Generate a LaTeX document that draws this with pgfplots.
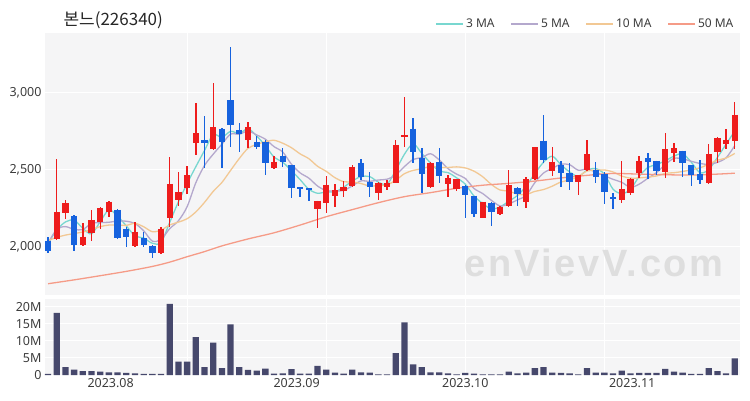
\documentclass[border=0pt]{standalone}
\usepackage{pgfplots}
\pgfplotsset{compat=1.18}
\usepackage{pgfplotstable}
\usepackage{fontspec}
\setmainfont{Noto Sans}
\newfontfamily\cjk{Noto Sans CJK KR}
\newfontfamily\wmfont[LetterSpace=7]{Liberation Sans Bold}

\definecolor{upc}{RGB}{238,28,28}
\definecolor{dnc}{RGB}{22,98,222}
\definecolor{panelbg}{RGB}{245,245,246}
\definecolor{volc}{RGB}{70,72,108}
\definecolor{maA}{RGB}{120,215,208}
\definecolor{maB}{RGB}{180,168,205}
\definecolor{maC}{RGB}{242,200,148}
\definecolor{maD}{RGB}{245,155,135}
\definecolor{txt}{RGB}{60,60,60}

% rising days (red)
\pgfplotstableread{
i o h l c
1 2048 2568 2045 2225
2 2220 2302 2177 2281
4 2011 2156 2005 2065
5 2086 2238 2039 2173
6 2162 2255 2112 2248
7 2227 2298 2194 2292
10 2004 2162 2000 2097
13 1961 2125 1955 2112
14 2188 2583 2130 2406
15 2302 2486 2264 2356
16 2382 2523 2341 2464
17 2670 2933 2594 2734
19 2631 3063 2625 2773
23 2691 2810 2637 2773
26 2508 2588 2501 2551
31 2242 2298 2119 2298
32 2285 2460 2220 2400
33 2328 2406 2255 2367
34 2363 2428 2324 2389
35 2393 2529 2389 2518
38 2346 2421 2302 2410
39 2389 2432 2367 2415
40 2415 2691 2410 2659
41 2713 2968 2644 2724
44 2384 2551 2378 2540
46 2406 2464 2320 2443
47 2372 2440 2363 2436
50 2184 2292 2184 2292
52 2212 2264 2205 2255
53 2264 2497 2255 2400
55 2292 2454 2248 2436
56 2436 2644 2432 2644
58 2490 2648 2458 2551
61 2421 2464 2334 2464
62 2496 2691 2492 2600
66 2302 2557 2285 2371
67 2345 2443 2334 2436
68 2479 2589 2443 2557
71 2486 2738 2443 2630
72 2604 2674 2550 2637
76 2410 2665 2406 2600
77 2615 2708 2544 2702
78 2665 2760 2630 2691
79 2686 2939 2630 2853
}\up

% falling days (blue)
\pgfplotstableread{
i o h l c
0 2039 2060 1961 1974
3 2199 2205 1974 2011
8 2238 2245 2050 2054
9 2112 2130 2000 2060
11 2054 2097 2000 2011
12 2004 2010 1924 1957
18 2691 2847 2508 2670
20 2760 2767 2508 2680
21 2950 3296 2648 2788
22 2756 2804 2616 2730
24 2680 2717 2631 2648
25 2680 2691 2464 2540
27 2588 2637 2518 2551
28 2529 2529 2313 2378
29 2385 2385 2320 2372
30 2378 2378 2298 2367
36 2540 2568 2432 2454
37 2421 2486 2324 2389
42 2765 2832 2544 2616
43 2572 2637 2346 2471
45 2551 2637 2410 2458
48 2393 2400 2184 2335
49 2330 2330 2194 2212
51 2285 2292 2134 2227
54 2378 2389 2264 2341
57 2687 2853 2544 2562
59 2529 2557 2388 2479
60 2479 2544 2367 2421
63 2496 2550 2414 2453
64 2470 2486 2276 2356
65 2319 2345 2242 2306
69 2576 2604 2436 2546
70 2557 2557 2464 2492
73 2622 2622 2453 2540
74 2529 2529 2393 2464
75 2470 2561 2406 2432
}\down

% moving averages: a = 3 MA, b = 5 MA, d = 10 MA
\pgfplotstableread{
i a b d
0 2022 2022 2040
1 2108 2112 2060
2 2160 2130 2075
3 2172 2112 2085
4 2119 2111 2095
5 2083 2151 2110
6 2162 2156 2130
7 2238 2158 2140
8 2198 2166 2140
9 2135 2165 2138
10 2070 2150 2151
11 2056 2103 2129
12 2022 2036 2097
13 2027 2047 2107
14 2158 2117 2141
15 2291 2168 2159
16 2409 2259 2181
17 2518 2414 2225
18 2623 2526 2287
19 2726 2599 2358
20 2708 2664 2416
21 2747 2729 2494
22 2733 2728 2571
23 2764 2749 2637
24 2717 2724 2662
25 2654 2696 2680
26 2580 2648 2689
27 2547 2613 2670
28 2493 2534 2641
29 2434 2478 2601
30 2372 2444 2570
31 2346 2393 2521
32 2355 2363 2488
33 2355 2361 2447
34 2385 2364 2421
35 2425 2394 2419
36 2454 2426 2409
37 2454 2423 2393
38 2418 2432 2396
39 2405 2437 2401
40 2495 2465 2430
41 2599 2519 2473
42 2666 2565 2494
43 2604 2577 2505
44 2542 2602 2520
45 2490 2562 2514
46 2480 2506 2513
47 2446 2470 2517
48 2405 2442 2510
49 2328 2377 2489
50 2280 2344 2453
51 2244 2300 2403
52 2258 2264 2367
53 2294 2277 2360
54 2332 2303 2340
55 2392 2332 2338
56 2474 2415 2358
57 2547 2477 2370
58 2586 2507 2392
59 2531 2534 2419
60 2484 2531 2432
61 2455 2495 2455
62 2495 2503 2490
63 2506 2483 2495
64 2470 2459 2497
65 2372 2436 2484
66 2344 2417 2457
67 2371 2384 2444
68 2455 2405 2445
69 2513 2443 2451
70 2532 2480 2458
71 2556 2532 2475
72 2586 2572 2479
73 2602 2569 2487
74 2547 2553 2498
75 2479 2539 2511
76 2499 2533 2534
77 2578 2546 2560
78 2664 2576 2574
79 2749 2654 2604
}\ma

\pgfplotstableread{
i m
0 1760
3 1785
6 1812
9 1840
12 1872
14 1900
16 1935
18 1968
20 2005
23 2050
26 2090
29 2140
32 2194
35 2240
38 2285
41 2324
44 2350
47 2378
50 2398
53 2410
56 2425
59 2445
62 2462
65 2474
68 2470
71 2466
74 2464
77 2470
79 2476
}\maL

% volume, millions
\pgfplotstableread{
i v
0 0.3
1 18.2
2 2.3
3 1.6
4 1.1
5 1.1
6 1.0
7 0.8
8 0.8
9 0.6
10 0.5
11 0.3
12 0.3
13 0.3
14 20.8
15 3.9
16 3.9
17 11.1
18 2.3
19 9.5
20 2.0
21 14.8
22 2.3
23 1.5
24 1.3
25 1.9
26 0.4
27 0.5
28 1.7
29 0.4
30 0.4
31 2.7
32 1.6
33 0.7
34 0.4
35 1.6
36 0.8
37 0.7
38 0.2
39 0.2
40 6.4
41 15.4
42 3.1
43 2.3
44 0.8
45 0.8
46 0.5
47 0.2
48 0.6
49 0.4
50 0.2
51 0.2
52 0.2
53 1.0
54 0.5
55 0.7
56 2.0
57 2.3
58 0.7
59 0.6
60 0.5
61 0.2
62 2.0
63 0.7
64 0.7
65 0.5
66 1.3
67 0.5
68 0.6
69 0.6
70 0.6
71 1.8
72 1.0
73 0.7
74 0.3
75 0.3
76 2.0
77 1.1
78 0.5
79 4.9
}\vol

\pgfplotsset{
  panel/.style={
    scale only axis, width=695pt,
    xmin=-0.35, xmax=79.6,
    axis background/.style={fill=panelbg},
    axis line style={draw=none},
    major tick length=0pt,
    grid style={white, line width=1pt},
    tick label style={font=\fontsize{12.5}{14}\selectfont, text=txt},
    /pgf/number format/assume math mode=true,
  },
  wick/.style={forget plot, draw=none, mark=none,
    error bars/.cd, y dir=both, y explicit, error mark=none,
    error bar style={draw=#1, line width=1.4pt}},
  body/.style={forget plot, draw=none, mark=none,
    error bars/.cd, y dir=minus, y explicit, error mark=none,
    error bar style={draw=#1, line width=6.3pt}},
}

\begin{document}
\begin{tikzpicture}
\path[use as bounding box] (0pt,0pt) rectangle (750pt,400pt);

\begin{axis}[panel, at={(45pt,105pt)}, anchor=south west, height=262pt,
  ymin=1687, ymax=3384, ytick={2000,2500,3000},
  yticklabel style={/pgf/number format/1000 sep={,}},
  xtick={16,32,48,64}, xticklabels={},
  xmajorgrids, ymajorgrids,
  legend columns=4,
  legend style={at={(0.998,1.034)}, anchor=east, draw=none, fill=none,
    font=\fontsize{12}{14}\selectfont, text=txt,
    /tikz/every even column/.append style={column sep=14pt}},
  legend image code/.code={\draw[#1, line width=1.5pt] (0pt,0pt) -- (27pt,0pt);},
]
\addplot[maA, line width=1.3pt, smooth] table[x=i, y=a] {\ma};
\addlegendentry{3 MA}
\addplot[maB, line width=1.3pt, smooth] table[x=i, y=b] {\ma};
\addlegendentry{5 MA}
\addplot[maC, line width=1.3pt, smooth] table[x=i, y=d] {\ma};
\addlegendentry{10 MA}
\addplot[maD, line width=1.3pt, smooth] table[x=i, y=m] {\maL};
\addlegendentry{50 MA}

\addplot[wick=upc] table[x=i, y=c,
  y error plus expr=\thisrow{h}-\thisrow{c},
  y error minus expr=\thisrow{c}-\thisrow{l}] {\up};
\addplot[body=upc] table[x=i, y=c,
  y error minus expr=\thisrow{c}-\thisrow{o}] {\up};
\addplot[wick=dnc] table[x=i, y=o,
  y error plus expr=\thisrow{h}-\thisrow{o},
  y error minus expr=\thisrow{o}-\thisrow{l}] {\down};
\addplot[body=dnc] table[x=i, y=o,
  y error minus expr=\thisrow{o}-\thisrow{c}] {\down};
\end{axis}

\node[font=\wmfont\fontsize{38}{38}\selectfont, text={rgb,255:red,222;green,222;blue,222}]
  at (594pt,137pt) {enVievV.com};

\begin{axis}[panel, at={(45pt,25pt)}, anchor=south west, height=76pt,
  ymin=0, ymax=22.25, ytick={0,5,10,15,20},
  yticklabels={0,5M,10M,15M,20M},
  ymajorgrids,
  xtick={7.2,28.6,48,67.2},
  xticklabels={2023.08,2023.09,2023.10,2023.11},
  extra x ticks={16,32,48,64}, extra x tick labels={},
  extra x tick style={xmajorgrids=true},
  ybar, bar width=6.3pt, bar shift=0pt,
]
\addplot[fill=volc, draw=none] table[x=i, y=v] {\vol};
\end{axis}

\node[anchor=west, font=\cjk\fontsize{17}{19}\selectfont, text=black!85]
  at (60pt,380pt) {본느(226340)};
\end{tikzpicture}
\end{document}
